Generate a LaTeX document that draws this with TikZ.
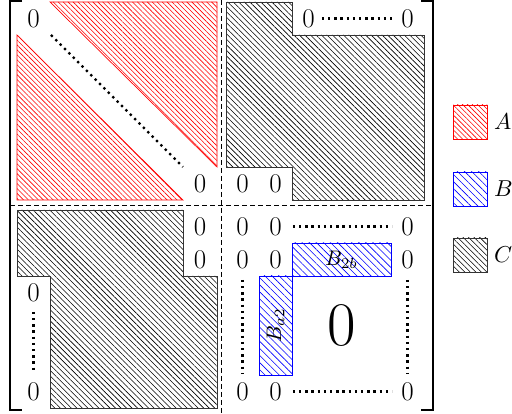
\documentclass[tikz,border=0pt]{standalone}
\usepackage{graphicx}
\usetikzlibrary{patterns.meta}
\begin{document}
\begin{tikzpicture}[x=1pt,y=-1pt,
  zr/.style={font=\fontsize{27}{30}\selectfont, inner sep=0pt},
  blockA/.style={draw=red, line width=0.7pt, pattern={Lines[angle=-45,distance=3.5pt,line width=0.6pt]}, pattern color=red},
  blockB/.style={draw=blue, line width=0.7pt, pattern={Lines[angle=-45,distance=5pt,line width=0.6pt]}, pattern color=blue},
  blockC/.style={draw=black!80, line width=0.7pt, pattern={Lines[angle=-45,distance=3.9pt,line width=0.6pt]}, pattern color=black},
  dotsline/.style={line width=2.3pt, dash pattern=on 2.3pt off 3.9pt},
  sep/.style={line width=0.6pt, dash pattern=on 5pt off 3pt},
  brk/.style={line width=1.1pt},
  lab/.style={inner sep=0pt},
  leg/.style={inner sep=0pt, anchor=west}]
\useasboundingbox (0,0) rectangle (512,414);
% brackets
\draw[brk] (22,1) -- (10,1) -- (10,410) -- (22,410);
\draw[brk] (421,1) -- (433,1) -- (433,410) -- (421,410);
% separators
\coordinate (hl) at (10,205); \coordinate (hr) at (433,205);
\coordinate (vt) at (221,0); \coordinate (vb) at (221,414);
\draw[sep] (hl) -- (hr);
\draw[sep] (vt) -- (vb);
% A blocks
\draw[blockA] (50,2) -- (217,2) -- (217,167) -- cycle;
\draw[blockA] (17,35) -- (17,200) -- (183,200) -- cycle;
\node[zr] (a0) at (33.5,18.5) {0};
\node[zr] (a1) at (200,183.5) {0};
\coordinate (ad1) at (51,35); \coordinate (ad2) at (183,167);
\draw[dotsline] (ad1) -- (ad2);
% C top right
\draw[blockC] (226,2) -- (292,2) -- (292,35) -- (424,35) -- (424,200) -- (292,200) -- (292,167) -- (226,167) -- cycle;
\node[zr] (c1) at (308.5,18.5) {0};
\node[zr] (c2) at (407.5,18.5) {0};
\draw[dotsline] ([xshift=7pt]c1.east) -- ([xshift=-7pt]c2.west);
\node[zr] (c3) at (242.5,183.5) {0};
\node[zr] (c4) at (275.5,183.5) {0};
% C bottom left
\draw[blockC] (17,210) -- (183,210) -- (183,276) -- (217,276) -- (217,408) -- (50,408) -- (50,276) -- (17,276) -- cycle;
\node[zr] (d1) at (200,226.5) {0};
\node[zr] (d2) at (200,259.5) {0};
\node[zr] (d3) at (33.5,292.5) {0};
\node[zr] (d4) at (33.5,391.5) {0};
\draw[dotsline] ([yshift=-10pt]d3.south) -- ([yshift=12pt]d4.north);
% bottom right
\node[zr] (e11) at (242.5,226.5) {0};
\node[zr] (e12) at (275.5,226.5) {0};
\node[zr] (e16) at (407.5,226.5) {0};
\draw[dotsline] ([xshift=11pt]e12.east) -- ([xshift=-9pt]e16.west);
\node[zr] (e21) at (242.5,259.5) {0};
\node[zr] (e22) at (275.5,259.5) {0};
\node[zr] (e26) at (407.5,259.5) {0};
\node[zr] (e61) at (242.5,391.5) {0};
\node[zr] (e62) at (275.5,391.5) {0};
\node[zr] (e66) at (407.5,391.5) {0};
\draw[dotsline] ([xshift=11pt]e62.east) -- ([xshift=-9pt]e66.west);
\draw[dotsline] ([yshift=-11pt]e21.south) -- ([yshift=8pt]e61.north);
\draw[dotsline] ([yshift=-11pt]e26.south) -- ([yshift=8pt]e66.north);
\draw[blockB] (292,243) rectangle (391,276);
\node[lab] (b2b) at (341.5,259.5) {\scalebox{2.1}{$B_{2b}$}};
\draw[blockB] (259,276) rectangle (292,375);
\node[lab, rotate=90] (ba2) at (275.5,325.5) {\scalebox{2.1}{$B_{a2}$}};
\node[font=\fontsize{62}{66}\selectfont, inner sep=0pt] (big) at (341.5,325.5) {0};
% legend
\draw[blockA] (453,105) rectangle (487,139);
\node[leg] (la) at (494,122) {\scalebox{2.3}{$A$}};
\draw[blockB] (453,172) rectangle (487,206);
\node[leg] (lb) at (494,189) {\scalebox{2.3}{$B$}};
\draw[blockC] (453,238) rectangle (487,272);
\node[leg] (lc) at (494,255) {\scalebox{2.3}{$C$}};
\end{tikzpicture}
\end{document}
